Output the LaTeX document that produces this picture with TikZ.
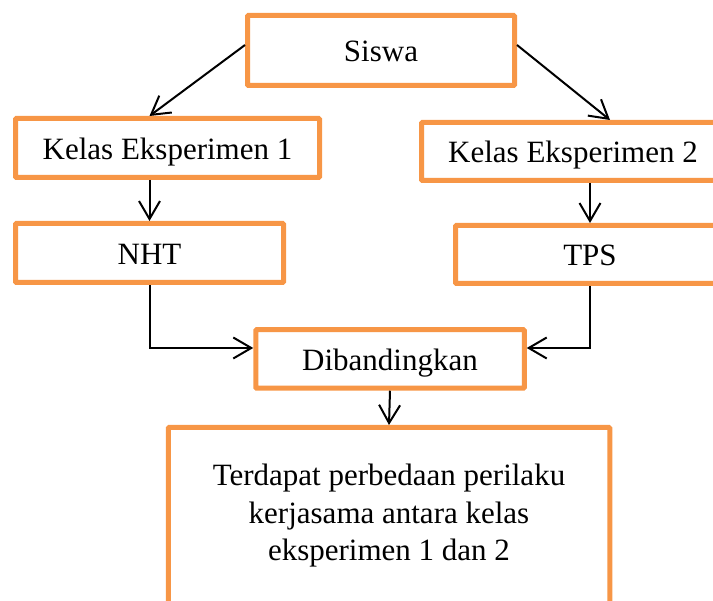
\documentclass[tikz,border=0pt]{standalone}
\usepackage{fontspec}
\setmainfont{Liberation Serif}
\usetikzlibrary{arrows.meta, positioning, calc}
\definecolor{oranye}{RGB}{247,150,70}

\begin{document}
\begin{tikzpicture}[x=1pt, y=-1pt,
    kotak/.style={draw=oranye, line width=5pt, rounded corners=1pt, fill=white, inner sep=0pt, align=center, font=\fontsize{31}{37.5}\selectfont},
    baris/.style={kotak, text height=23pt, text depth=0pt},
    panah/.style={-{Straight Barb[length=18pt, width=21pt]}, line width=2pt}]
    \useasboundingbox (0,0) rectangle (713,601);
    \clip (0,0) rectangle (713,601);
    % Baris atas
    \node [baris, minimum width=267pt, minimum height=70pt] (siswa) at (381,50.5) {Siswa};
    \node [baris, minimum width=304pt, minimum height=59pt] (kelasA) at (167.5,148) {Kelas Eksperimen 1};
    \node [baris, minimum width=303pt, minimum height=58pt] (kelasB) at (573,151.5) {Kelas Eksperimen 2};
    % Model
    \node [baris, minimum width=268pt, minimum height=59pt] (nht) at (149.5,253) {NHT};
    \node [baris, minimum width=269pt, minimum height=58pt] (tps) at (590,254.5) {TPS};
    % Hasil
    \node [baris, minimum width=268.5pt, minimum height=58.5pt] (banding) at (390,359) {Dibandingkan};
    \node [kotak, minimum width=441.5pt, minimum height=177pt] (hasil) at (389,516) {Terdapat perbedaan perilaku\\ kerjasama antara kelas\\ eksperimen 1 dan 2};

    \draw[panah] ([yshift=5.5pt]siswa.west) -- (kelasA.north -| nht.north);
    \draw[panah] ([yshift=5.5pt]siswa.east) -- ([xshift=37pt]kelasB.north);
    \draw[panah] (kelasA.south -| nht.north) -- (nht.north);
    \draw[panah] (kelasB.south -| tps.north) -- (tps.north);
    \draw[panah] (nht.south) |- ([yshift=11pt]banding.west);
    \draw[panah] (tps.south) |- ([yshift=11pt]banding.east);
    \draw[panah] (banding.south) -- (hasil.north);
\end{tikzpicture}
\end{document}
